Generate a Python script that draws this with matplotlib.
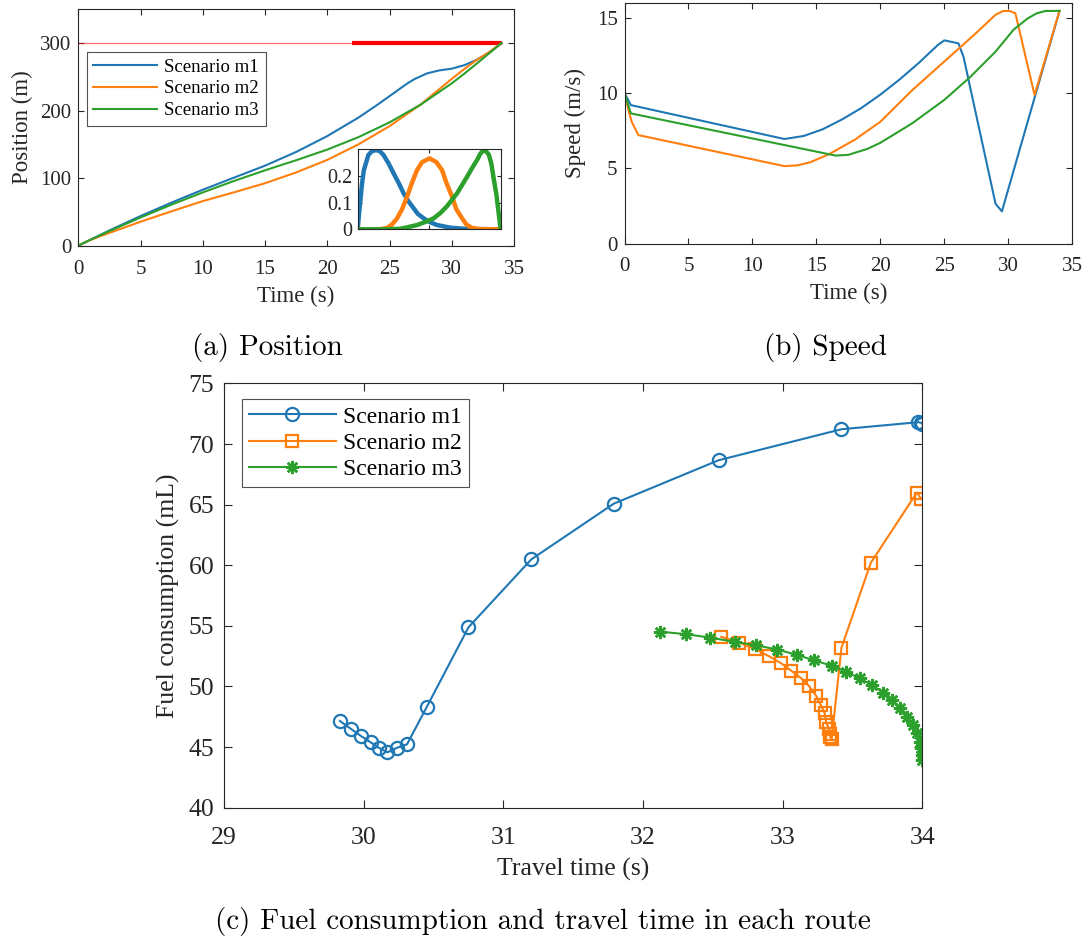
import matplotlib
matplotlib.use("Agg")
import matplotlib.pyplot as plt

# ---------------- data ----------------
labels = ["Scenario m1", "Scenario m2", "Scenario m3"]
colors = ["#1f77b4", "#ff7f0e", "#2ca02c"]

# position vs time
pos_t_m1 = [0, 2.5, 5, 7.5, 10, 12.5, 15, 17.5, 20, 22.5, 24, 25, 26, 26.5, 27, 28, 29, 30, 31, 32, 33, 34]
pos_m1 = [0, 22.6, 43.9, 63.9, 82.9, 100.7, 118.5, 138.8, 162.3, 189.6, 208.3, 221.4, 234.6, 241, 246.6, 255, 259.6, 262.1, 267.2, 275.2, 286.1, 300]
pos_t_m2 = [0, 0.5, 1, 2.5, 5, 7.5, 10, 12.5, 15, 17.5, 20, 22.5, 25, 27.5, 30, 31, 32, 33, 34]
pos_m2 = [0, 4.7, 8.7, 19, 35.5, 51, 66, 79, 92.5, 108.5, 127, 150, 177, 209, 247, 261.5, 275, 286.5, 300]
pos_t_m3 = [0, 0.5, 2.5, 5, 7.5, 10, 12.5, 15, 16.5, 17.5, 20, 22.5, 25, 27.5, 30, 31, 32, 33, 34]
pos_m3 = [0, 4.7, 21.6, 41.8, 60.9, 78.9, 95.8, 111.6, 120.6, 126.5, 142.3, 160.7, 182.6, 208.8, 240.4, 254.6, 269.5, 284.8, 300]

# speed vs time
spd_t_m1 = [0, 0.5, 12.5, 14, 15.5, 17, 18.5, 20, 21.5, 23, 24, 24.5, 25, 26.1, 26.5, 29.0, 29.5, 34]
spd_m1 = [10, 9.2, 6.95, 7.15, 7.6, 8.25, 9.0, 9.9, 10.9, 12.0, 12.8, 13.2, 13.5, 13.3, 12.4, 2.65, 2.15, 15.45]
spd_t_m2 = [0, 0.3, 0.56, 1.08, 12.5, 13.5, 14.5, 16, 18, 20, 22.5, 25, 27.5, 29, 29.6, 30.1, 30.55, 32.05, 34]
spd_m2 = [10, 8.9, 8.1, 7.21, 5.15, 5.2, 5.4, 5.95, 6.9, 8.1, 10.2, 12.1, 14.0, 15.2, 15.45, 15.45, 15.3, 9.87, 15.46]
spd_t_m3 = [0, 0.5, 16.5, 17.5, 19, 20, 22.5, 25, 27, 29, 30.4, 31.5, 32.2, 32.9, 34]
spd_m3 = [10, 8.65, 5.85, 5.9, 6.3, 6.7, 8.0, 9.55, 11.05, 12.75, 14.2, 14.95, 15.29, 15.45, 15.46]

# inset: weighting profiles over the normalised window
ins_x_m1 = [0, 0.008, 0.019, 0.03, 0.043, 0.075, 0.1, 0.129, 0.155, 0.18, 0.215, 0.251, 0.29, 0.321,
            0.355, 0.391, 0.42, 0.462, 0.5, 0.555, 0.649, 0.766, 1.0]
ins_m1 = [0, 0.05, 0.11, 0.17, 0.222, 0.279, 0.293, 0.297, 0.293, 0.279, 0.248, 0.21, 0.17, 0.135,
          0.105, 0.079, 0.058, 0.041, 0.028, 0.016, 0.006, 0.001, 0]
ins_x_m2 = [0, 0.15, 0.205, 0.24, 0.275, 0.31, 0.345, 0.38, 0.415, 0.45, 0.503, 0.55, 0.59, 0.62,
            0.66, 0.69, 0.73, 0.76, 0.80, 0.85, 1.0]
ins_m2 = [0, 0.0, 0.005, 0.018, 0.041, 0.075, 0.122, 0.175, 0.222, 0.252, 0.266, 0.252, 0.222, 0.175,
          0.122, 0.075, 0.041, 0.018, 0.005, 0.001, 0]
ins_x_m3 = [0, 0.2, 0.3, 0.415, 0.47, 0.531, 0.58, 0.625, 0.695, 0.73, 0.765, 0.8, 0.835, 0.857,
            0.877, 0.897, 0.917, 0.935, 0.951, 0.97, 0.986, 0.995, 1.0]
ins_m3 = [0, 0.0, 0.002, 0.016, 0.027, 0.041, 0.062, 0.087, 0.135, 0.166, 0.197, 0.23, 0.26, 0.283,
          0.295, 0.293, 0.28, 0.245, 0.19, 0.13, 0.06, 0.02, 0]

# fuel consumption vs travel time
tt_m1 = [29.83, 29.91, 29.98, 30.05, 30.11, 30.17, 30.24, 30.31, 30.45, 30.75, 31.20, 31.79, 32.54, 33.42, 33.97, 33.99, 34.0, 34.0]
fuel_m1 = [47.15, 46.49, 45.92, 45.39, 44.93, 44.57, 44.95, 45.23, 48.28, 54.88, 60.49, 65.08, 68.66, 71.22, 71.8, 71.75, 71.7, 71.65]
tt_m2 = [32.56, 32.69, 32.80, 32.90, 32.99, 33.06, 33.13, 33.19, 33.24, 33.27, 33.30, 33.31, 33.33, 33.34, 33.34, 33.35, 33.42, 33.63, 33.96, 33.99]
fuel_m2 = [54.1, 53.6, 53.1, 52.5, 51.9, 51.3, 50.7, 50.0, 49.2, 48.5, 47.8, 47.1, 46.5, 46.1, 45.8, 45.7, 53.2, 60.2, 66.0, 65.5]
tt_m3 = [32.12, 32.31, 32.48, 32.66, 32.81, 32.96, 33.10, 33.22, 33.35, 33.45, 33.55, 33.64, 33.72, 33.78, 33.84, 33.89, 33.93, 33.96, 33.98, 33.99, 33.996, 33.998]
fuel_m3 = [54.52, 54.31, 54.03, 53.67, 53.40, 53.04, 52.62, 52.16, 51.72, 51.22, 50.68, 50.10, 49.49, 48.86, 48.20, 47.51, 46.80, 46.14, 45.45, 44.90, 44.35, 43.94]

# ---------------- style ----------------
plt.rcParams["font.family"] = ["Liberation Serif", "DejaVu Serif"]
AX_COL = "#262626"
W, H = 1085, 943


def box(x0, y0, x1, y1):
    """Convert pixel box (left, top, right, bottom) to figure fraction rect."""
    return [x0 / W, 1 - y1 / H, (x1 - x0) / W, (y1 - y0) / H]


def style_axes(ax, fs, xpad, ypad, length=4):
    for s in ax.spines.values():
        s.set_color(AX_COL)
        s.set_linewidth(0.8)
    ax.tick_params(direction="in", top=True, right=True, length=length, width=0.8,
                   colors=AX_COL, labelsize=fs, labelcolor=AX_COL)
    ax.tick_params(axis="x", pad=xpad)
    ax.tick_params(axis="y", pad=ypad)


fig = plt.figure(figsize=(W / 100, H / 100), dpi=100)

# ---- (a) position ----
ax_a = fig.add_axes(box(78.3, 9.3, 514, 245.7))
ax_a.plot([0, 34], [300, 300], color="red", lw=0.9, alpha=0.55)
ax_a.plot([22, 34], [300, 300], color="red", lw=3.0, solid_capstyle="butt")
for t, p, c, lab in zip([pos_t_m1, pos_t_m2, pos_t_m3], [pos_m1, pos_m2, pos_m3], colors, labels):
    ax_a.plot(t, p, color=c, lw=1.5, label=lab)
ax_a.set_xlim(0, 35)
ax_a.set_ylim(0, 350)
ax_a.set_xticks(range(0, 36, 5))
ax_a.set_yticks([0, 100, 200, 300])
style_axes(ax_a, 15, xpad=10, ypad=5)
ax_a.set_xlabel("Time (s)", fontsize=16.5, color=AX_COL, labelpad=5)
ax_a.set_ylabel("Position (m)", fontsize=16.5, color=AX_COL, labelpad=5)
leg = ax_a.legend(loc="upper left", bbox_to_anchor=(0.019, 0.82), borderaxespad=0,
                  fontsize=13.5, frameon=True, fancybox=False, edgecolor=AX_COL,
                  handlelength=3.4, borderpad=0.35, labelspacing=0.25, handletextpad=0.4)
leg.get_frame().set_linewidth(0.8)

# inset
ax_i = fig.add_axes(box(357.7, 149.3, 500.7, 229.3))
for x, y, c in zip([ins_x_m1, ins_x_m2, ins_x_m3], [ins_m1, ins_m2, ins_m3], colors):
    ax_i.plot(x, y, color=c, lw=3.2, solid_joinstyle="round", solid_capstyle="round")
ax_i.set_xlim(0, 1)
ax_i.set_ylim(0, 0.3)
ax_i.set_xticks([0, 0.5, 1])
ax_i.set_xticklabels([])
ax_i.set_yticks([0, 0.1, 0.2])
ax_i.set_yticklabels(["0", "0.1", "0.2"])
style_axes(ax_i, 14.5, xpad=2, ypad=4, length=3)

# ---- (b) speed ----
ax_b = fig.add_axes(box(624.5, 2.7, 1072.3, 243.7))
for t, v, c in zip([spd_t_m1, spd_t_m2, spd_t_m3], [spd_m1, spd_m2, spd_m3], colors):
    ax_b.plot(t, v, color=c, lw=1.5)
ax_b.set_xlim(0, 35)
ax_b.set_ylim(0, 16)
ax_b.set_xticks(range(0, 36, 5))
ax_b.set_yticks([0, 5, 10, 15])
style_axes(ax_b, 15, xpad=9.5, ypad=5)
ax_b.set_xlabel("Time (s)", fontsize=16.5, color=AX_COL, labelpad=5)
ax_b.set_ylabel("Speed (m/s)", fontsize=16.5, color=AX_COL, labelpad=8)

# ---- (c) fuel vs travel time ----
ax_c = fig.add_axes(box(224, 383.4, 922.5, 807.7))
ax_c.plot(tt_m1, fuel_m1, color=colors[0], lw=1.5, marker="o", ms=9.5,
          mfc="none", mew=1.6, label=labels[0])
ax_c.plot(tt_m2, fuel_m2, color=colors[1], lw=1.5, marker="s", ms=8.5,
          mfc="none", mew=1.6, label=labels[1])
ax_c.plot(tt_m3, fuel_m3, color=colors[2], lw=1.5, marker=(8, 2, 0), ms=9.5,
          mew=1.8, label=labels[2])
ax_c.set_xlim(29, 34)
ax_c.set_ylim(40, 75)
ax_c.set_xticks(range(29, 35))
ax_c.set_yticks(range(40, 76, 5))
style_axes(ax_c, 18.5, xpad=14, ypad=7, length=6)
ax_c.set_xlabel("Travel time (s)", fontsize=18.5, color=AX_COL, labelpad=6)
ax_c.set_ylabel("Fuel consumption (mL)", fontsize=18.5, color=AX_COL, labelpad=6)
leg_c = ax_c.legend(loc="upper left", bbox_to_anchor=(0.0253, 0.963), borderaxespad=0,
                    fontsize=17, frameon=True, fancybox=False, edgecolor=AX_COL,
                    handlelength=3.7, borderpad=0.3, labelspacing=0.2, handletextpad=0.3)
leg_c.get_frame().set_linewidth(0.8)

# captions
cap_kw = dict(fontsize=21, family="cmr10", ha="center", va="center", color="black")
fig.text(267 / W, 1 - 347 / H, "(a) Position", **cap_kw)
fig.text(825 / W, 1 - 347 / H, "(b) Speed", **cap_kw)
fig.text(543 / W, 1 - 921 / H, "(c) Fuel consumption and travel time in each route", **cap_kw)

fig.savefig("out.png", dpi=100)
